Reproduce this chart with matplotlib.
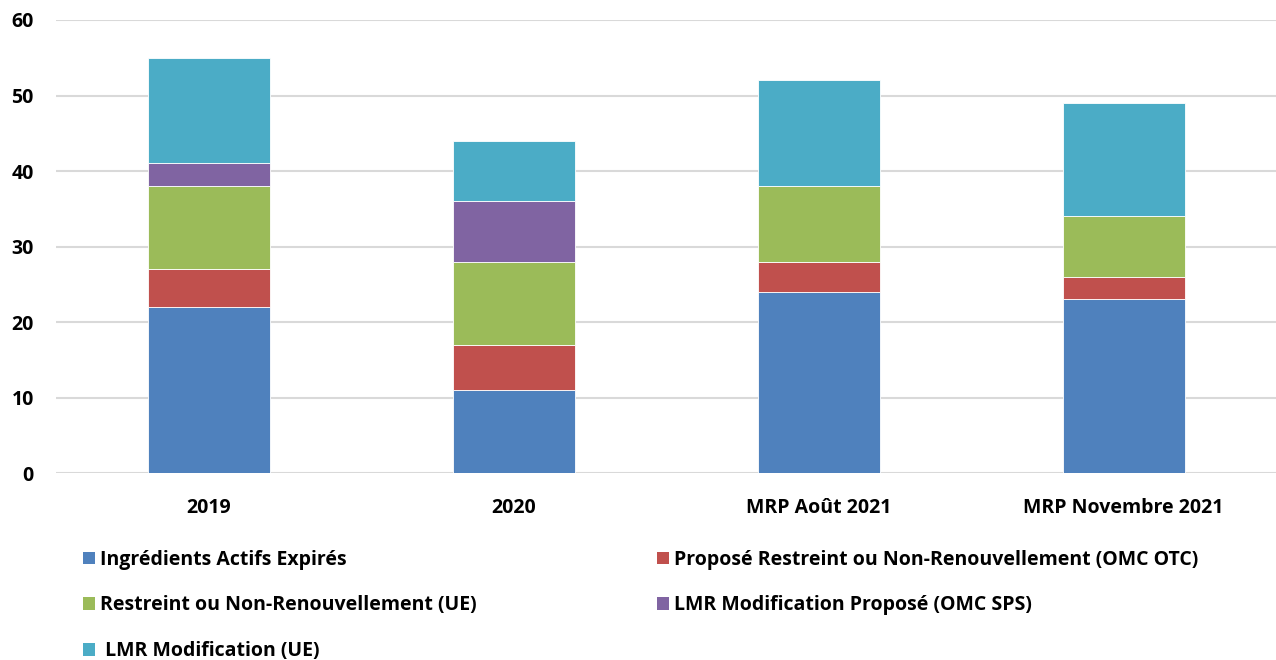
import matplotlib

matplotlib.use("Agg")

import matplotlib.pyplot as plt
import matplotlib.patches as mpatches
import numpy as np

plt.rcParams["font.family"] = ["Open Sans", "DejaVu Sans"]
plt.rcParams["font.weight"] = "bold"

categories = ["2019", "2020", "MRP Août 2021", "MRP Novembre 2021"]

series_names = [
    "Ingrédients Actifs Expirés",
    "Proposé Restreint ou Non-Renouvellement (OMC OTC)",
    "Restreint ou Non-Renouvellement (UE)",
    "LMR Modification Proposé (OMC SPS)",
    " LMR Modification (UE)",
]
expired = [22, 11, 24, 23]
proposed_restrict = [5, 6, 4, 3]
restrict_eu = [11, 11, 10, 8]
mrl_proposed = [3, 8, 0, 0]
mrl_eu = [14, 8, 14, 15]

colors = ["#4F81BD", "#C0504D", "#9BBB59", "#8064A2", "#4BACC6"]
y_ticks = [0, 10, 20, 30, 40, 50, 60]

FS = 14

fig = plt.figure(figsize=(12.76, 6.6), dpi=100)
ax = fig.add_axes([0.044, 0.2833, 0.956, 0.6864])

x = np.arange(len(categories))
bottom = np.zeros(len(categories))
handles = []
for name, vals, col in zip(series_names,
                           [expired, proposed_restrict, restrict_eu, mrl_proposed, mrl_eu],
                           colors):
    vals = np.array(vals, dtype=float)
    ax.bar(x, vals, 0.4, bottom=bottom, color=col, edgecolor="white",
           linewidth=0.6, zorder=3)
    bottom += vals
    handles.append(mpatches.Patch(facecolor=col, label=name))

ax.set_xlim(-0.5, len(categories) - 0.5)
ax.set_ylim(0, 60)
ax.set_yticks(y_ticks)
ax.set_xticks(x)
ax.set_xticklabels(categories, fontsize=FS, fontweight="bold")
ax.tick_params(axis="y", labelsize=FS, length=0, pad=16)
ax.tick_params(axis="x", length=0, pad=18)
for lbl in ax.get_yticklabels():
    lbl.set_fontweight("bold")
ax.grid(axis="y", color="#D9D9D9", linewidth=1.5, zorder=0)
ax.set_axisbelow(True)
for s in ax.spines.values():
    s.set_visible(False)

# column-first fill: left column gets entries 0, 2, 4
order = [0, 2, 4, 1, 3]
fig.legend(
    handles=[handles[i] for i in order],
    loc="upper left",
    bbox_to_anchor=(0.065, 0.167),
    ncol=2,
    frameon=False,
    handlelength=0.62,
    handleheight=0.62,
    handletextpad=0.25,
    columnspacing=9.3,
    labelspacing=1.32,
    borderaxespad=0,
    borderpad=0,
    prop={"weight": "bold", "size": FS},
)

fig.savefig("out.png", dpi=100)
